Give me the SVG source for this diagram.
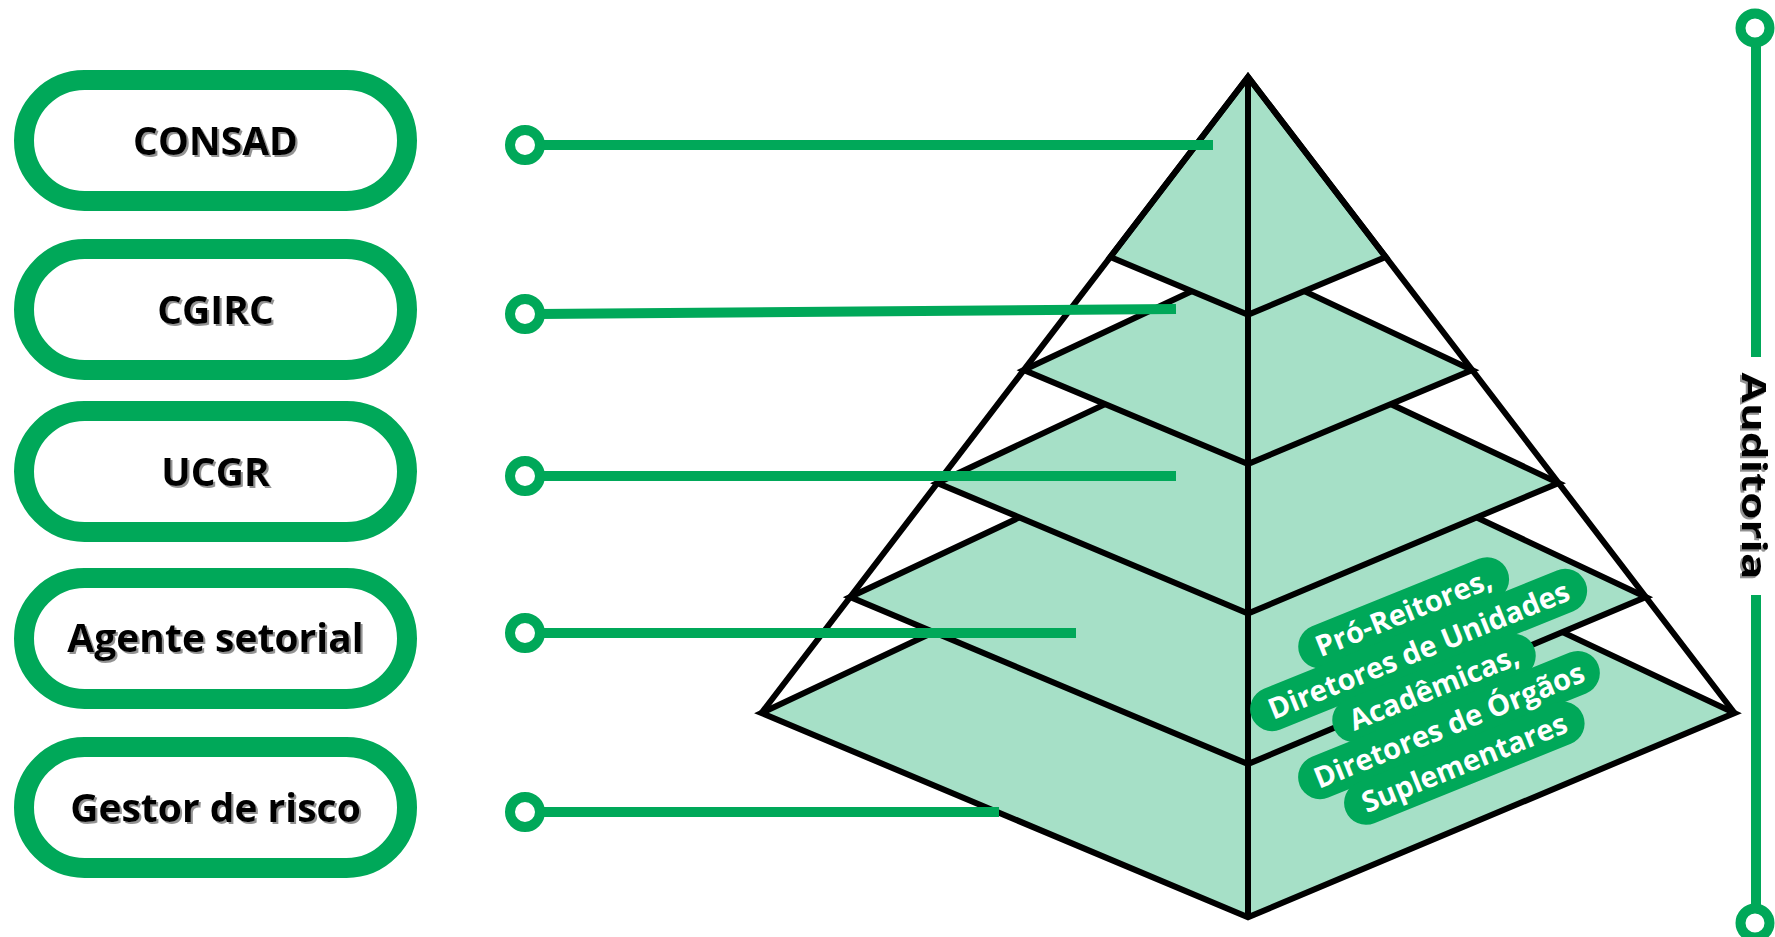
<svg xmlns="http://www.w3.org/2000/svg" width="1775" height="937" viewBox="0 0 1775 937">
<defs>
<filter id="sh" x="-10%" y="-30%" width="130%" height="160%">
<feDropShadow dx="2" dy="2" stdDeviation="0.7" flood-color="#777" flood-opacity="0.8"/>
</filter>
</defs>
<style>
.pill{fill:#fff;stroke:#00a859;stroke-width:20}
.ptxt{font-family:"Open Sans","Noto Sans",sans-serif;font-weight:700;font-size:39px;fill:#000;text-anchor:middle}
.conn{stroke:#00a859;stroke-width:10;fill:none}
.dot{fill:#fff;stroke:#00a859;stroke-width:10}
.layer{fill:#a6e0c7;stroke:#000;stroke-width:6;stroke-linejoin:miter}
.edge{stroke:#000;stroke-width:6;fill:none;stroke-linecap:butt}
.blob{fill:#00a859}
.btxt{font-family:"Open Sans","Noto Sans",sans-serif;font-weight:700;font-size:29px;fill:#fff;text-anchor:middle}
.aud{font-family:"Open Sans","Noto Sans",sans-serif;font-weight:700;font-size:34px;fill:#000;text-anchor:middle}
</style>
<rect width="1775" height="937" fill="#fff"/>

<g id="pyramid">
<polygon class="layer" points="761.5,713 1248,484.3 1734.5,713 1248,917.3"/>
<polygon class="layer" points="850.2,597 1248,410 1645.8,597 1248,764.1"/>
<polygon class="layer" points="937.4,483 1248,337 1558.6,483 1248,613.5"/>
<polygon class="layer" points="1023.9,370 1248,264.7 1472.1,370 1248,464.1"/>
<polygon class="layer" points="1248,77 1110.3,257 1248,314.8 1385.7,257"/>
<polyline class="edge" points="761.5,713 1248,77 1734.5,713"/>
<line class="edge" x1="1248" y1="77" x2="1248" y2="917.3"/>
</g>

<g id="connectors">
<line class="conn" x1="538" y1="145" x2="1213" y2="145"/>
<line class="conn" x1="538" y1="314" x2="1176" y2="309"/>
<line class="conn" x1="538" y1="476" x2="1176" y2="476"/>
<line class="conn" x1="538" y1="633" x2="1076" y2="633"/>
<line class="conn" x1="538" y1="812" x2="999" y2="812"/>
<circle class="dot" cx="525" cy="145" r="15"/>
<circle class="dot" cx="525" cy="314" r="15"/>
<circle class="dot" cx="525" cy="476" r="15"/>
<circle class="dot" cx="525" cy="633" r="15"/>
<circle class="dot" cx="525" cy="812" r="15"/>
</g>

<g id="consad">
<rect class="pill" x="24" y="80" width="383" height="121" rx="60.5"/>
<text class="ptxt" x="215.5" y="155" filter="url(#sh)">CONSAD</text>
</g>
<g id="cgirc">
<rect class="pill" x="24" y="249" width="383" height="121" rx="60.5"/>
<text class="ptxt" x="215.5" y="324" filter="url(#sh)">CGIRC</text>
</g>
<g id="ucgr">
<rect class="pill" x="24" y="411" width="383" height="121" rx="60.5"/>
<text class="ptxt" x="215.5" y="486" filter="url(#sh)">UCGR</text>
</g>
<g id="agente">
<rect class="pill" x="24" y="578" width="383" height="121" rx="60.5"/>
<text class="ptxt" x="215.5" y="652" filter="url(#sh)">Agente setorial</text>
</g>
<g id="gestor">
<rect class="pill" x="24" y="747" width="383" height="121" rx="60.5"/>
<text class="ptxt" x="215.5" y="822" filter="url(#sh)">Gestor de risco</text>
</g>

<g id="label" transform="translate(1434,688) rotate(-22)">
<rect class="blob" x="-112" y="-103" width="224" height="44" rx="22"/>
<rect class="blob" x="-180" y="-63" width="360" height="44" rx="22"/>
<rect class="blob" x="-108" y="-22" width="216" height="44" rx="22"/>
<rect class="blob" x="-161" y="18" width="322" height="44" rx="22"/>
<rect class="blob" x="-128" y="59" width="256" height="44" rx="22"/>
<text class="btxt" x="0" y="-71">Pró-Reitores,</text>
<text class="btxt" x="0" y="-30.5">Diretores de Unidades</text>
<text class="btxt" x="0" y="10">Acadêmicas,</text>
<text class="btxt" x="0" y="50.5">Diretores de Órgãos</text>
<text class="btxt" x="0" y="91">Suplementares</text>
</g>

<g id="auditoria">
<line class="conn" x1="1756" y1="40" x2="1756" y2="357"/>
<line class="conn" x1="1756" y1="595" x2="1756" y2="910"/>
<circle class="dot" cx="1755" cy="28" r="14.5"/>
<circle class="dot" cx="1755" cy="923" r="14.5"/>
<g transform="translate(1756,476) rotate(90)">
<text class="aud" x="0" y="14" textLength="207" lengthAdjust="spacingAndGlyphs" filter="url(#sh)">Auditoria</text>
</g>
</g>
</svg>
